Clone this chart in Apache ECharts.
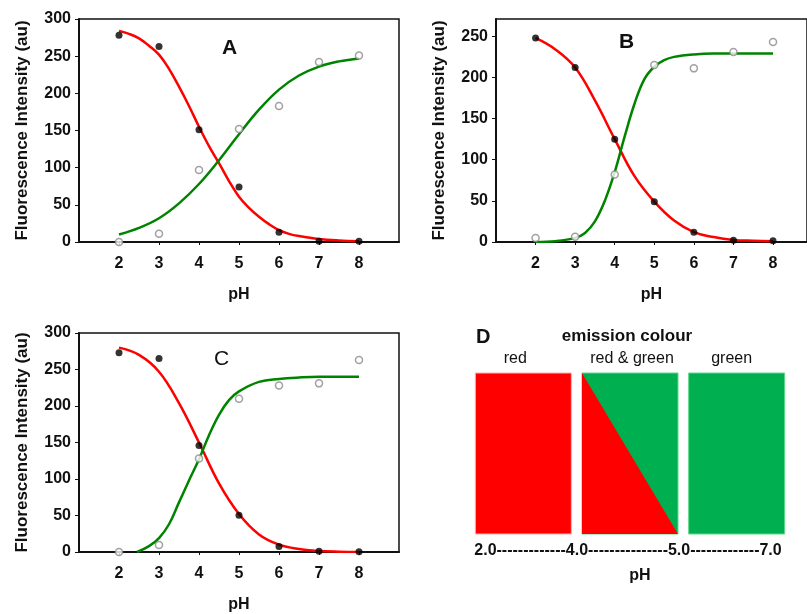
<!DOCTYPE html>
<html>
<head>
<meta charset="utf-8">
<script src="https://cdn.jsdelivr.net/npm/echarts/dist/echarts.min.js"></script>
<style>html,body{margin:0;padding:0;background:#fff;}#chart{width:807px;height:614px;}</style>
</head>
<body>
<div id="chart"></div>
<script>
// ---------- data ----------
const pH = [2, 3, 4, 5, 6, 7, 8];
const xTickLabels = ['2', '3', '4', '5', '6', '7', '8'];

// Panel A
const aRed   = [278, 263, 151, 74, 13, 1, 1];
const aGreen = [0, 11, 97, 152, 183, 242, 251];
const aRedFitPH   = [2, 2.25, 2.5, 2.75, 3, 3.25, 3.5, 3.75, 4, 4.25, 4.5, 4.75, 5, 5.25, 5.5, 5.75, 6, 6.25, 6.5, 7, 7.5, 8];
const aRedFit     = [284, 280, 274, 264, 252, 233, 209, 183, 155, 129, 106, 82, 61, 46, 34, 24, 16, 11, 8, 4, 2, 1];
const aGreenFitPH = [2, 2.5, 3, 3.5, 4, 4.5, 5, 5.5, 6, 6.5, 7, 7.5, 8];
const aGreenFit   = [10, 19, 32, 52, 78, 110, 145, 178, 205, 224, 236, 243, 247];

// Panel B
const bRed   = [248, 212, 125, 49, 12, 2, 1.5];
const bGreen = [5, 6.4, 82, 215, 211, 231, 243];
const bRedFitPH   = [2, 2.5, 3, 3.5, 4, 4.5, 5, 5.5, 6, 6.5, 7, 7.5, 8];
const bRedFit     = [248, 234, 212, 172, 125, 80, 49, 26, 12, 6, 2.5, 1.5, 1];
const bGreenFitPH = [2, 2.5, 3, 3.25, 3.5, 3.75, 4, 4.25, 4.5, 4.75, 5, 5.25, 5.5, 6, 6.5, 7, 8];
const bGreenFit   = [0, 1, 5, 11, 25, 50, 85, 128, 168, 198, 213, 221, 225, 228, 229, 229, 229];

// Panel C
const cRed   = [273, 265, 146, 50.5, 7.7, 1, 0.5];
const cGreen = [0, 9.5, 128, 210, 228, 231, 263];
const cRedFitPH   = [2, 2.5, 3, 3.5, 4, 4.5, 5, 5.5, 6, 6.5, 7, 7.5, 8];
const cRedFit     = [280, 270, 247, 204, 150, 94, 52, 24, 10, 4, 1.5, 0.5, 0];
const cGreenFitPH = [2.45, 2.75, 3, 3.25, 3.5, 3.75, 4, 4.25, 4.5, 4.75, 5, 5.5, 6, 6.5, 7, 8];
const cGreenFit   = [0, 8, 19, 38, 68, 98, 127, 160, 188, 208, 220, 233, 237, 239, 240, 240];

// Panel D
const dCategories = ['red', 'red & green', 'green'];
const dRangeLabel = '2.0-------------4.0---------------5.0-------------7.0';

// ---------- chart ----------
const FONT = "'Liberation Sans', Arial, sans-serif";
const zip = (xs, ys) => xs.map((x, i) => [x, ys[i]]);

const grids = [
  { left: 79,  top: 19,  width: 320, height: 223 },
  { left: 496, top: 19,  width: 312, height: 223 },
  { left: 79,  top: 333, width: 320, height: 221 },
  { left: 470, top: 373, width: 320, height: 161 }
].map(g => Object.assign({ show: false, containLabel: false }, g));

function frameGrid(i) {
  return Object.assign({}, grids[i], { show: true, borderColor: '#111', borderWidth: 1.5, backgroundColor: 'transparent' });
}

function xAxisFor(gi, max) {
  return {
    type: 'value', gridIndex: gi, min: 1, max: max, interval: 1,
    name: 'pH', nameLocation: 'middle', nameGap: 45,
    nameTextStyle: { fontFamily: FONT, fontWeight: 'bold', fontSize: 16, color: '#111' },
    axisLine: { show: true, lineStyle: { color: '#111', width: 2 } },
    axisTick: { show: true, length: 3, inside: false, lineStyle: { color: '#111' } },
    splitLine: { show: false },
    axisLabel: {
      margin: 14, fontFamily: FONT, fontWeight: 'bold', fontSize: 16, color: '#111',
      showMaxLabel: false, showMinLabel: false,
      formatter: v => { const i = pH.indexOf(v); return i >= 0 ? xTickLabels[i] : ''; }
    }
  };
}
function yAxisFor(gi, max) {
  return {
    type: 'value', gridIndex: gi, min: 0, max: max, interval: 50,
    name: 'Fluorescence Intensity (au)', nameLocation: 'middle', nameGap: 48,
    nameTextStyle: { fontFamily: FONT, fontWeight: 'bold', fontSize: 17, color: '#111' },
    axisLine: { show: true, lineStyle: { color: '#111', width: 2 } },
    axisTick: { show: true, length: 4, inside: false, lineStyle: { color: '#111' } },
    splitLine: { show: false },
    axisLabel: {
      margin: 8, fontFamily: FONT, fontWeight: 'bold', fontSize: 16, color: '#111',
      showMaxLabel: max % 50 === 0,
      formatter: v => (v % 50 === 0 ? String(v) : '')
    }
  };
}

function panelSeries(ai, red, green, redFitX, redFit, greenFitX, greenFit) {
  return [
    { type: 'line', xAxisIndex: ai, yAxisIndex: ai, data: zip(redFitX, redFit), smooth: 0.4, symbol: 'none',
      lineStyle: { color: '#ff0000', width: 2.5 }, z: 2, silent: true },
    { type: 'line', xAxisIndex: ai, yAxisIndex: ai, data: zip(greenFitX, greenFit), smooth: 0.4, symbol: 'none',
      lineStyle: { color: '#008400', width: 2.5 }, z: 2, silent: true },
    { type: 'scatter', xAxisIndex: ai, yAxisIndex: ai, data: zip(pH, red), symbol: 'circle', symbolSize: 7,
      itemStyle: { color: '#000' }, z: 3 },
    { type: 'scatter', xAxisIndex: ai, yAxisIndex: ai, data: zip(pH, green), symbol: 'circle', symbolSize: 7,
      itemStyle: { color: '#fff', borderColor: '#8a8a8a', borderWidth: 1.5 }, z: 3 }
  ];
}

const dLabelStyle = { fontFamily: FONT, fontSize: 16, color: '#111' };

const option = {
  animation: false,
  backgroundColor: '#fff',
  grid: [frameGrid(0), frameGrid(1), frameGrid(2), grids[3]],
  xAxis: [
    xAxisFor(0, 9), xAxisFor(1, 1 + 312 / 39.7), xAxisFor(2, 9),
    { type: 'category', gridIndex: 3, data: dCategories, position: 'top',
      axisLine: { show: false }, axisTick: { show: false }, splitLine: { show: false },
      axisLabel: {
        interval: 0, margin: 6, fontFamily: FONT, fontSize: 16, color: '#111',
        formatter: (v, i) => '{c' + i + '|' + v + '}',
        rich: {
          c0: Object.assign({ padding: [0, 16, 0, 0] }, dLabelStyle),
          c1: Object.assign({ padding: [0, 0, 0, 4] }, dLabelStyle),
          c2: Object.assign({ padding: [0, 10, 0, 0] }, dLabelStyle)
        }
      } }
  ],
  yAxis: [
    yAxisFor(0, 300), yAxisFor(1, 271), yAxisFor(2, 300),
    { type: 'value', gridIndex: 3, min: 0, max: 1, show: false }
  ],
  series: [
    ...panelSeries(0, aRed, aGreen, aRedFitPH, aRedFit, aGreenFitPH, aGreenFit),
    ...panelSeries(1, bRed, bGreen, bRedFitPH, bRedFit, bGreenFitPH, bGreenFit),
    ...panelSeries(2, cRed, cGreen, cRedFitPH, cRedFit, cGreenFitPH, cGreenFit),
    {
      type: 'custom', xAxisIndex: 3, yAxisIndex: 3,
      data: dCategories.map((c, i) => [i, 1]),
      renderItem: function (params, api) {
        const idx = api.value(0);
        const top = api.coord([idx, 1]);
        const bot = api.coord([idx, 0]);
        const w = api.size([1, 0])[0] * 0.9;
        const x0 = top[0] - w / 2, x1 = top[0] + w / 2;
        const y0 = top[1], y1 = bot[1];
        const RED = '#ff0000', GREEN = '#00b050';
        if (idx === 0) {
          return { type: 'rect', shape: { x: x0, y: y0, width: w, height: y1 - y0 },
                   style: { fill: RED, stroke: '#ffb0b0', lineWidth: 1 } };
        }
        if (idx === 2) {
          return { type: 'rect', shape: { x: x0, y: y0, width: w, height: y1 - y0 },
                   style: { fill: GREEN, stroke: '#5fd88a', lineWidth: 1 } };
        }
        return { type: 'group', children: [
          { type: 'rect', shape: { x: x0, y: y0, width: w, height: y1 - y0 },
            style: { fill: GREEN, stroke: '#5fd88a', lineWidth: 1 } },
          { type: 'polygon', shape: { points: [[x0, y0], [x1, y1], [x0, y1]] },
            style: { fill: RED } }
        ] };
      }
    }
  ],
  graphic: [
    { type: 'text', left: 222, top: 38, style: { text: 'A', font: "bold 21px 'Liberation Sans', Arial", fill: '#111' } },
    { type: 'text', left: 619, top: 32, style: { text: 'B', font: "bold 21px 'Liberation Sans', Arial", fill: '#111' } },
    { type: 'text', left: 214, top: 349, style: { text: 'C', font: "21px 'Liberation Sans', Arial", fill: '#111' } },
    { type: 'text', left: 476, top: 327, style: { text: 'D', font: "bold 20px 'Liberation Sans', Arial", fill: '#111' } },
    { type: 'text', x: 627, y: 336, style: { text: 'emission colour', align: 'center', verticalAlign: 'middle',
      font: "bold 17px 'Liberation Sans', Arial", fill: '#111' } },
    { type: 'text', x: 628, y: 551, style: { text: dRangeLabel, align: 'center', verticalAlign: 'middle',
      font: "bold 16px 'Liberation Sans', Arial", fill: '#111' } },
    { type: 'text', x: 640, y: 576, style: { text: 'pH', align: 'center', verticalAlign: 'middle',
      font: "bold 16px 'Liberation Sans', Arial", fill: '#111' } }
  ]
};

const chart = echarts.init(document.getElementById('chart'), null, { renderer: 'canvas' });
chart.setOption(option);
</script>
</body>
</html>
